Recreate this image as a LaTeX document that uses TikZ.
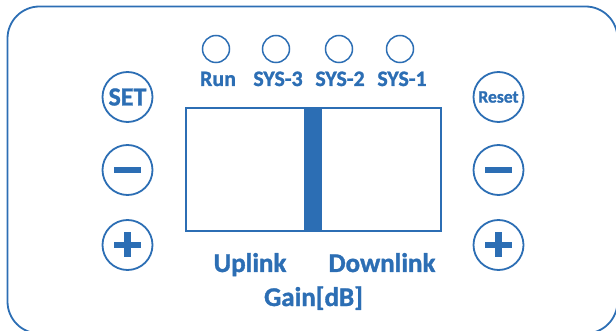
\documentclass[tikz,border=0pt]{standalone}
\usepackage{fontspec}
\setmainfont{Carlito}[BoldFeatures={FakeBold=1.2}]
\definecolor{pblue}{RGB}{44,110,180}
\begin{document}
\begin{tikzpicture}[x=1pt,y=-1pt,
  every node/.style={inner sep=0pt,outer sep=0pt},
  btn/.style={circle,draw=pblue,line width=1.8pt,minimum size=50pt},
  led/.style={circle,draw=pblue,line width=1.5pt,minimum size=27pt},
  lbl/.style={text=pblue,font=\bfseries\fontsize{22}{22}\selectfont,anchor=base},
  big/.style={text=pblue,font=\bfseries\fontsize{27}{27}\selectfont,anchor=base},
  bar/.style={fill=pblue,draw=none}]
\useasboundingbox (0,0) rectangle (616,331);
\draw[pblue,line width=1.8pt,rounded corners=32pt] (7.5,6.5) rectangle (617.5,333.5);
% LEDs
\node[led] (run) at (216,49) {};
\node[led] (s3) at (276,49) {};
\node[led] (s2) at (339,49) {};
\node[led] (s1) at (400,49) {};
\node[lbl] (lrun) at (218,86) {Run};
\node[lbl] (ls3) at (278,86) {SYS-3};
\node[lbl] (ls2) at (340,86) {SYS-2};
\node[lbl] (ls1) at (402,86) {SYS-1};
% left buttons
\node[btn,text=pblue,font=\bfseries\fontsize{26}{26}\selectfont] (set) at (127.5,97) {SET};
\node[btn] (lminus) at (127.5,170) {};
\node[btn] (lplus) at (127.5,245) {};
\fill[pblue] ([xshift=-13.5pt,yshift=-3pt]lminus.center) rectangle ([xshift=13.5pt,yshift=3pt]lminus.center);
\fill[pblue] ([xshift=-13.5pt,yshift=-3pt]lplus.center) rectangle ([xshift=13.5pt,yshift=3pt]lplus.center);
\fill[pblue] ([xshift=-3.5pt,yshift=-12.5pt]lplus.center) rectangle ([xshift=3.5pt,yshift=12.5pt]lplus.center);
% right buttons
\node[btn,text=pblue,font=\bfseries\fontsize{17.5}{17.5}\selectfont] (reset) at (498.5,97) {Reset};
\node[btn] (rminus) at (498.5,170) {};
\node[btn] (rplus) at (498.5,245) {};
\fill[pblue] ([xshift=-13.5pt,yshift=-3pt]rminus.center) rectangle ([xshift=13.5pt,yshift=3pt]rminus.center);
\fill[pblue] ([xshift=-13.5pt,yshift=-3pt]rplus.center) rectangle ([xshift=13.5pt,yshift=3pt]rplus.center);
\fill[pblue] ([xshift=-3.5pt,yshift=-12.5pt]rplus.center) rectangle ([xshift=3.5pt,yshift=12.5pt]rplus.center);
% display
\draw[pblue,line width=2pt] (185.5,108.5) rectangle (441.3,231.2);
\fill[pblue] (304,108.5) rectangle (322,231.2);
\node[big] (up) at (250,272) {Uplink};
\node[big] (down) at (382,272) {Downlink};
\node[big] (gain) at (313.5,306) {Gain[dB]};
\end{tikzpicture}
\end{document}
